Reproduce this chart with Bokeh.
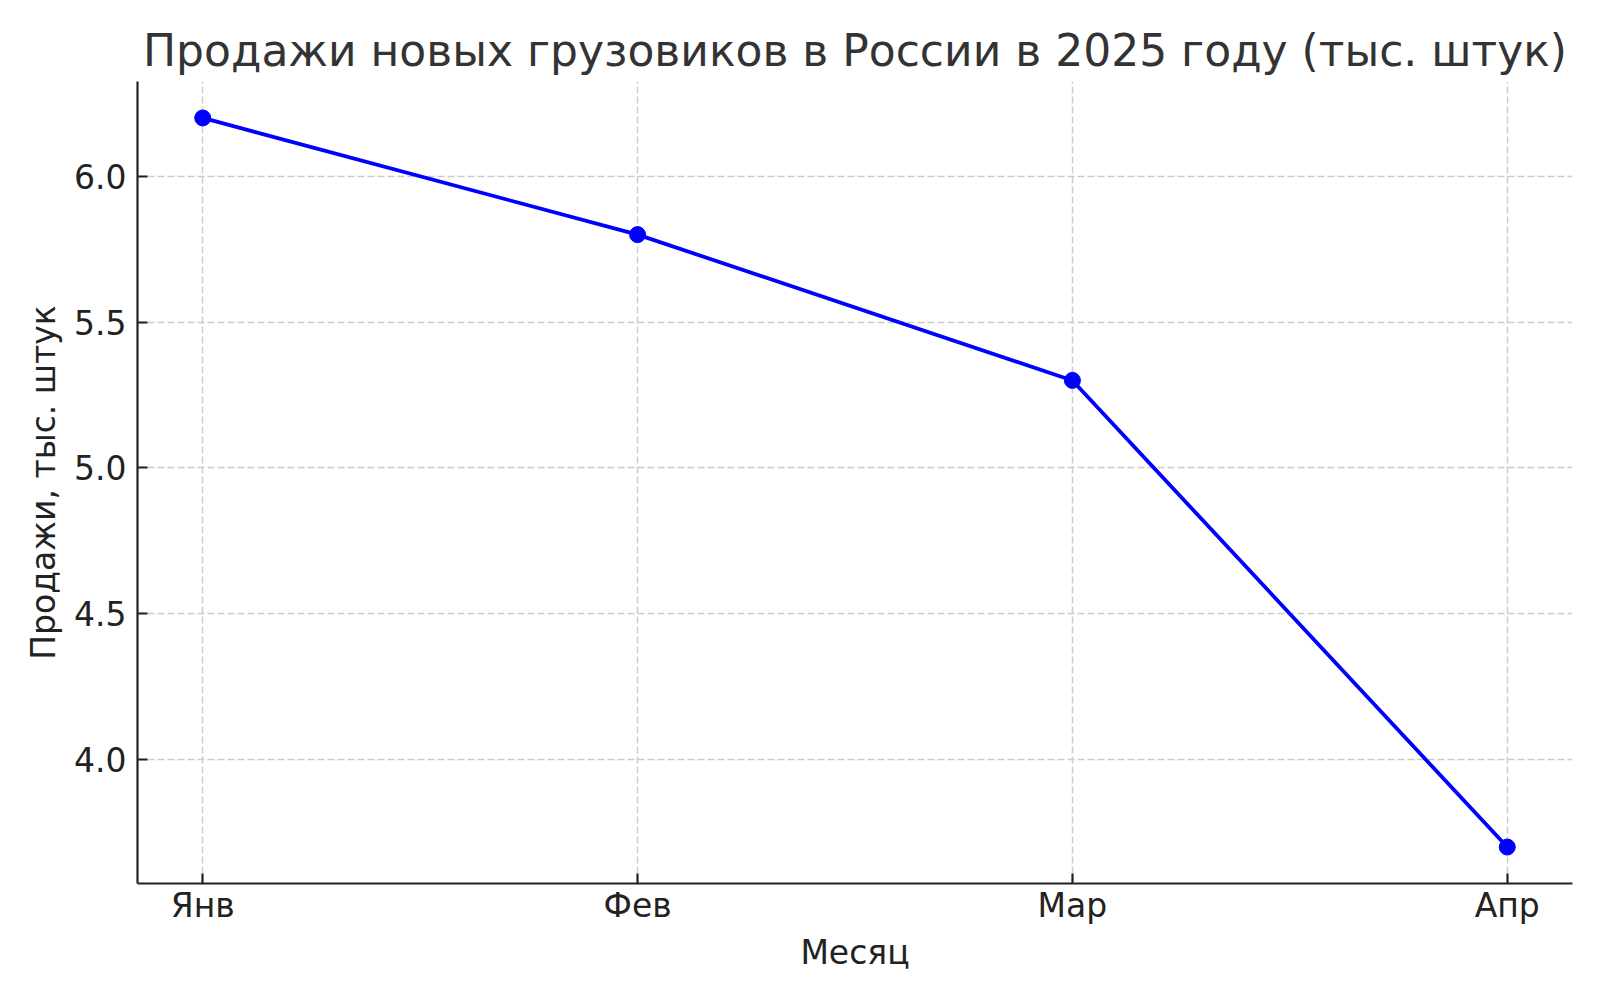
from bokeh.plotting import figure
from bokeh.models import FixedTicker, Range1d, Title, NumeralTickFormatter
from bokeh.embed import file_html
from bokeh.resources import INLINE

months = ["Янв", "Фев", "Мар", "Апр"]
sales = [6.2, 5.8, 5.3, 3.7]
y_ticks = [4.0, 4.5, 5.0, 5.5, 6.0]

x = list(range(len(months)))
FONT = "DejaVu Sans"

p = figure(width=1600, height=1000, output_backend="svg", toolbar_location=None,
           x_range=Range1d(-0.15, 3.15), y_range=Range1d(3.575, 6.325),
           min_border_left=137, min_border_right=28, min_border_top=81, min_border_bottom=117)
p.title = Title(text="Продажи новых грузовиков в России в 2025 году (тыс. штук)",
                align="center", text_font=FONT, text_font_size="44px",
                text_font_style="normal", text_color="#333333", offset=0, standoff=12)

p.line(x, sales, line_color="#0000ff", line_width=3.8)
p.scatter(x, sales, size=16, fill_color="#0000ff", line_color="#0000ff")

p.xaxis.ticker = FixedTicker(ticks=x)
p.xaxis.major_label_overrides = {i: m for i, m in enumerate(months)}
p.yaxis.ticker = FixedTicker(ticks=y_ticks)
p.yaxis.formatter = NumeralTickFormatter(format="0.0")

for ax in (p.xaxis, p.yaxis):
    ax.major_tick_in = 10
    ax.major_tick_out = 0
    ax.minor_tick_line_color = None
    ax.axis_line_width = 2.2
    ax.axis_line_color = "#222222"
    ax.major_tick_line_width = 2.2
    ax.major_tick_line_color = "#222222"
    ax.major_label_text_font = FONT
    ax.major_label_text_font_size = "33px"
    ax.major_label_text_color = "#222222"
    ax.axis_label_text_font = FONT
    ax.axis_label_text_font_size = "33px"
    ax.axis_label_text_font_style = "normal"
    ax.axis_label_text_color = "#222222"

p.xaxis.axis_label = "Месяц"
p.yaxis.axis_label = "Продажи, тыс. штук"
p.xaxis.major_label_standoff = 2
p.yaxis.major_label_standoff = 11
p.xaxis.axis_label_standoff = 5
p.yaxis.axis_label_standoff = 8

p.grid.grid_line_color = "#cccccc"
p.grid.grid_line_dash = "7 3"
p.grid.grid_line_width = 1.5
p.outline_line_color = None
p.background_fill_color = "white"
p.border_fill_color = "white"

open("out.html", "w").write(file_html(p, INLINE))
